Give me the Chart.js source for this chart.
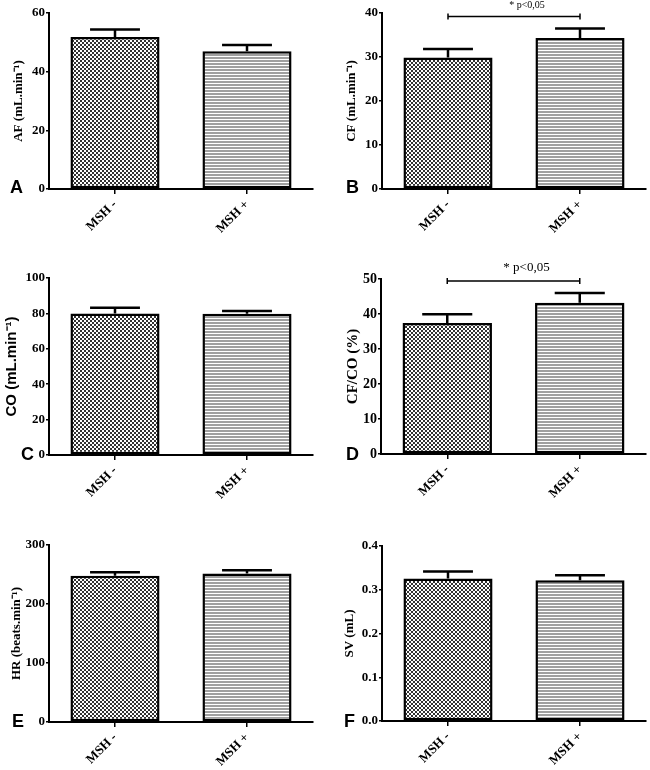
<!DOCTYPE html>
<html>
<head>
<meta charset="utf-8">
<script src="https://cdn.jsdelivr.net/npm/chart.js@4.4.0/dist/chart.umd.min.js"></script>
<style>
  body { margin: 0; background: #fff; }
  #page { position: relative; width: 650px; height: 770px; overflow: hidden; }
  .panel { position: absolute; }
  .letter { position: absolute; font: bold 18px "Liberation Sans", Arial, sans-serif; line-height: 18px; color: #000; }
</style>
</head>
<body>
<div id="page"></div>
<script>
// groups on the x axis
const groups = ['MSH -', 'MSH +'];

// means and SEM (upper bar only)
const afMean = [51.8, 47.0];
const afErr = [2.6, 2.1];
const cfMean = [29.9, 34.3];
const cfErr = [1.9, 2.2];
const coMean = [80.0, 79.8];
const coErr = [3.2, 1.5];
const cfcoMean = [37.4, 43.2];
const cfcoErr = [2.5, 2.8];
const hrMean = [248, 251.5];
const hrErr = [6, 5.7];
const svMean = [0.326, 0.322];
const svErr = [0.016, 0.011];

// y tick values of each panel
const afTicks = [0, 20, 40, 60];
const cfTicks = [0, 10, 20, 30, 40];
const coTicks = [0, 20, 40, 60, 80, 100];
const cfcoTicks = [0, 10, 20, 30, 40, 50];
const hrTicks = [0, 100, 200, 300];
const svTicks = [0, 0.1, 0.2, 0.3, 0.4];

const sigText = '* p<0,05';

// fill patterns
function checkerPattern() {
    const c = document.createElement('canvas');
    c.width = 4; c.height = 4;
    const g = c.getContext('2d');
    g.fillStyle = '#fff';
    g.fillRect(0, 0, 4, 4);
    g.fillStyle = '#333';
    g.fillRect(0, 0, 2, 2);
    g.fillRect(2, 2, 2, 2);
    return g.createPattern(c, 'repeat');
}
function stripePattern() {
    const c = document.createElement('canvas');
    c.width = 4; c.height = 3;
    const g = c.getContext('2d');
    g.fillStyle = '#fff';
    g.fillRect(0, 0, 4, 3);
    g.fillStyle = '#a0a0a0';
    g.fillRect(0, 0, 4, 2);
    return g.createPattern(c, 'repeat');
}

const serif = '"Liberation Serif", "Times New Roman", serif';
const sans = '"Liberation Sans", Arial, sans-serif';

// box = canvas rect on the page, area = wanted plot area (page coords)
const panels = [
    { letter: 'A', title: 'AF (mL.min\u207B\u00B9)', titleFont: {family: serif, size: 13, weight: 'bold'}, titlePad: 11,
      mean: afMean, err: afErr, ticks: afTicks,
      box: [0, 0, 325, 258], area: [49, 13, 313, 189], letterPos: [10, 178] },
    { letter: 'B', title: 'CF (mL.min\u207B\u00B9)', titleFont: {family: serif, size: 13, weight: 'bold'}, titlePad: 19,
      mean: cfMean, err: cfErr, ticks: cfTicks, sig: {level: 39.2, size: 10, dy: 11},
      box: [325, 0, 325, 258], area: [382, 13, 646, 189], letterPos: [346, 178] },
    { letter: 'C', title: 'CO (mL.min\u207B\u00B9)', titleFont: {family: sans, size: 15, weight: 'bold'}, titlePad: 3,
      mean: coMean, err: coErr, ticks: coTicks,
      box: [0, 262, 325, 258], area: [49, 278, 313, 455], letterPos: [21, 445] },
    { letter: 'D', title: 'CF/CO (%)', titleFont: {family: serif, size: 15, weight: 'bold'}, titlePad: 19, tickSize: 14,
      mean: cfcoMean, err: cfcoErr, ticks: cfcoTicks, sig: {level: 49.4, size: 13, dy: 14},
      box: [325, 262, 325, 258], area: [381, 279, 646, 454], letterPos: [346, 445] },
    { letter: 'E', title: 'HR (beats.min\u207B\u00B9)', titleFont: {family: serif, size: 13, weight: 'bold'}, titlePad: 9,
      mean: hrMean, err: hrErr, ticks: hrTicks,
      box: [0, 525, 325, 245], area: [49, 545, 313, 722], letterPos: [12, 712] },
    { letter: 'F', title: 'SV (mL)', titleFont: {family: serif, size: 13, weight: 'bold'}, titlePad: 17, decimals: 1,
      mean: svMean, err: svErr, ticks: svTicks,
      box: [325, 525, 325, 245], area: [382, 546, 646, 721], letterPos: [344, 712] }
];

const errorBars = {
    id: 'errorBars',
    afterDatasetsDraw(chart, args, opts) {
        const ctx = chart.ctx;
        const y = chart.scales.y;
        const meta = chart.getDatasetMeta(0);
        ctx.save();
        ctx.strokeStyle = '#000';
        ctx.lineWidth = 2.5;
        meta.data.forEach((bar, i) => {
            const top = y.getPixelForValue(opts.mean[i] + opts.err[i]);
            const half = bar.width * 0.28;
            ctx.beginPath();
            ctx.moveTo(bar.x, bar.y);
            ctx.lineTo(bar.x, top);
            ctx.moveTo(bar.x - half, top);
            ctx.lineTo(bar.x + half, top);
            ctx.stroke();
        });
        ctx.restore();
    }
};

const sigBracket = {
    id: 'sigBracket',
    afterDraw(chart, args, opts) {
        if (!opts.sig) return;
        const ctx = chart.ctx;
        const x1 = chart.scales.x.getPixelForValue(0);
        const x2 = chart.scales.x.getPixelForValue(1);
        const y = chart.scales.y.getPixelForValue(opts.sig.level);
        ctx.save();
        ctx.strokeStyle = '#000';
        ctx.lineWidth = 1.5;
        ctx.beginPath();
        ctx.moveTo(x1, y); ctx.lineTo(x2, y);
        ctx.moveTo(x1, y - 3); ctx.lineTo(x1, y + 3);
        ctx.moveTo(x2, y - 3); ctx.lineTo(x2, y + 3);
        ctx.stroke();
        ctx.fillStyle = '#000';
        ctx.font = opts.sig.size + 'px ' + serif;
        ctx.textAlign = 'center';
        ctx.textBaseline = 'middle';
        ctx.fillText(sigText, (x1 + x2) / 2 + 13, y - opts.sig.dy);
        ctx.restore();
    }
};

const page = document.getElementById('page');

panels.forEach(p => {
    const [bx, by, bw, bh] = p.box;
    const [l, t, r, b] = p.area;
    const div = document.createElement('div');
    div.className = 'panel';
    div.style.left = bx + 'px';
    div.style.top = by + 'px';
    div.style.width = bw + 'px';
    div.style.height = bh + 'px';
    const canvas = document.createElement('canvas');
    div.appendChild(canvas);
    page.appendChild(div);

    const lab = document.createElement('div');
    lab.className = 'letter';
    lab.textContent = p.letter;
    lab.style.left = p.letterPos[0] + 'px';
    lab.style.top = p.letterPos[1] + 'px';
    page.appendChild(lab);

    const yWidth = l - bx;
    const xHeight = by + bh - b;
    const tickFont = {family: serif, size: p.tickSize || 13, weight: 'bold'};

    new Chart(canvas, {
        type: 'bar',
        data: {
            labels: groups,
            datasets: [{
                data: p.mean,
                backgroundColor: [checkerPattern(), stripePattern()],
                borderColor: '#000',
                borderWidth: 2.5,
                borderSkipped: false,
                categoryPercentage: 1,
                barPercentage: 0.675
            }]
        },
        options: {
            responsive: true,
            maintainAspectRatio: false,
            animation: false,
            events: [],
            layout: { padding: { left: 0, top: t - by, right: bx + bw - r, bottom: 0 } },
            plugins: {
                legend: { display: false },
                tooltip: { enabled: false },
                errorBars: { mean: p.mean, err: p.err },
                sigBracket: { sig: p.sig || null }
            },
            scales: {
                x: {
                    offset: true,
                    grid: { display: true, drawOnChartArea: false, offset: false, tickLength: 5, color: '#000', lineWidth: 1.5 },
                    border: { display: true, color: '#000', width: 2 },
                    ticks: { color: '#000', font: {family: serif, size: 13, weight: 'bold'}, minRotation: 45, maxRotation: 45, padding: 3 },
                    afterFit: s => { s.height = xHeight; }
                },
                y: {
                    min: 0,
                    max: p.ticks[p.ticks.length - 1],
                    afterBuildTicks: s => { s.ticks = p.ticks.map(v => ({ value: v })); },
                    grid: { display: true, drawOnChartArea: false, tickLength: 3, color: '#000', lineWidth: 1.5 },
                    border: { display: true, color: '#000', width: 2 },
                    ticks: {
                        color: '#000', font: tickFont, padding: 1,
                        callback: v => p.decimals ? Number(v).toFixed(p.decimals) : v
                    },
                    title: { display: true, text: p.title, color: '#000', font: p.titleFont, padding: { top: p.titlePad, bottom: 0 } },
                    afterFit: s => { s.width = yWidth; }
                }
            }
        },
        plugins: [errorBars, sigBracket]
    });
});
</script>
</body>
</html>
